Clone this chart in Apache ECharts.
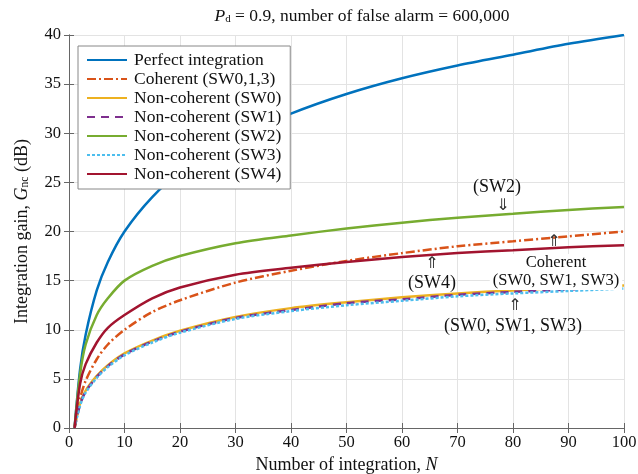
<!DOCTYPE html>
<html>
<head>
<meta charset="utf-8">
<script src="https://cdn.jsdelivr.net/npm/echarts@6/dist/echarts.min.js"></script>
<style>
html, body { margin: 0; padding: 0; background: #fff; }
#chart { width: 638px; height: 474px; }
</style>
</head>
<body>
<div id="chart"></div>
<script>
var serif = '"Liberation Serif", "DejaVu Serif", serif';
var gridColor = '#e3e3e3';
var boxColor = '#666';

// 积累次数
var nValues = [1, 2, 3, 5, 7, 10, 15, 20, 30, 40, 50, 60, 70, 80, 90, 100];
// 各曲线增益 (dB)
var perfect = [0, 6, 9.5, 14, 16.9, 20, 23.5, 26, 29.5, 32, 34, 35.6, 36.9, 38, 39.1, 40];
var coherent = [0, 3, 4.8, 7, 8.5, 10, 11.8, 13, 14.8, 16, 17, 17.8, 18.5, 19, 19.5, 20];
var ncSW0 = [0, 2.5, 3.8, 5.3, 6.4, 7.6, 8.9, 9.9, 11.3, 12.2, 12.8, 13.3, 13.7, 14, 14.3, 14.5];
var ncSW1 = [0, 2.4, 3.7, 5.2, 6.3, 7.5, 8.8, 9.8, 11.2, 12.0, 12.7, 13.1, 13.55, 13.85, 14.1, 14.35];
var ncSW2 = [0, 5.5, 8.5, 11.5, 13.2, 15, 16.5, 17.5, 18.8, 19.6, 20.3, 20.9, 21.4, 21.8, 22.2, 22.5];
var ncSW3 = [0, 2.3, 3.6, 5.1, 6.2, 7.4, 8.7, 9.7, 11.1, 11.9, 12.5, 12.95, 13.4, 13.7, 13.95, 14.2];
var ncSW4 = [0, 4.5, 6.5, 8.7, 10.2, 11.5, 13.2, 14.3, 15.6, 16.3, 16.9, 17.4, 17.8, 18.1, 18.4, 18.6];

var lineSeries = function (name, ys, color, type) {
    return {
        name: name,
        type: 'line',
        data: nValues.map(function (n, i) { return [n, ys[i]]; }),
        symbol: 'none',
        smooth: 0.3,
        lineStyle: { color: color, width: 2.5, type: type || 'solid' },
        itemStyle: { color: color }
    };
};

var txt = function (x, y, text, size, extra) {
    var style = { text: text, font: size + 'px ' + serif, fill: '#111', align: 'center', verticalAlign: 'middle' };
    for (var k in extra) style[k] = extra[k];
    return { type: 'text', z: 100, x: x, y: y, style: style };
};
var arrow = function (x, y, ch) {
    return { type: 'text', z: 100, x: x, y: y, style: { text: ch, font: '16px "DejaVu Sans"', fill: '#333', align: 'center', verticalAlign: 'middle' } };
};

var myChart = echarts.init(document.getElementById('chart'));
var option = {
    animation: false,
    backgroundColor: '#fff',
    textStyle: { fontFamily: serif },
    title: {
        text: '{i|P}{sub|d}{n| = 0.9, number of false alarm = 600,000}',
        left: 357,
        top: 0,
        textAlign: 'center',
        textStyle: {
            fontWeight: 'normal',
            rich: {
                i: { fontFamily: serif, fontSize: 17.5, fontStyle: 'italic', color: '#111', verticalAlign: 'bottom', lineHeight: 20 },
                sub: { fontFamily: serif, fontSize: 11, color: '#111', verticalAlign: 'bottom', lineHeight: 16 },
                n: { fontFamily: serif, fontSize: 17.5, color: '#111', verticalAlign: 'bottom', lineHeight: 20 }
            }
        }
    },
    legend: {
        orient: 'vertical',
        left: 78,
        top: 46,
        itemWidth: 40,
        itemHeight: 14,
        itemGap: 1,
        padding: [5, 9, 6, 8],
        borderColor: '#888',
        borderWidth: 1,
        backgroundColor: '#fff',
        itemStyle: { opacity: 0 },
        textStyle: { fontFamily: serif, fontSize: 17.5, lineHeight: 17, color: '#111', padding: [0, 0, 0, 2] }
    },
    grid: { left: 69, right: 14, top: 35, bottom: 46, outerBoundsMode: 'none' },
    xAxis: [{
        type: 'value',
        min: 0, max: 100, interval: 10,
        name: '{n|Number of integration, }{i|N}',
        nameLocation: 'middle',
        nameGap: 28,
        nameTextStyle: {
            rich: {
                n: { fontFamily: serif, fontSize: 18, color: '#111' },
                i: { fontFamily: serif, fontSize: 18, color: '#111', fontStyle: 'italic' }
            }
        },
        axisLine: { onZero: false, lineStyle: { color: boxColor } },
        axisTick: { inside: true, length: 5, lineStyle: { color: boxColor } },
        axisLabel: { fontFamily: serif, fontSize: 16.5, color: '#111', margin: 6 },
        splitLine: { show: true, lineStyle: { color: gridColor } }
    }, {
        type: 'value', position: 'top',
        min: 0, max: 100, interval: 10,
        axisLine: { lineStyle: { color: boxColor } },
        axisTick: { inside: true, length: 5, lineStyle: { color: boxColor } },
        axisLabel: { show: false },
        splitLine: { show: false }
    }],
    yAxis: [{
        type: 'value',
        min: 0, max: 40, interval: 5,
        name: '{n|Integration gain, }{i|G}{sub|nc}{n| (dB)}',
        nameLocation: 'middle',
        nameGap: 38,
        nameTextStyle: {
            rich: {
                n: { fontFamily: serif, fontSize: 18, color: '#111', verticalAlign: 'bottom', lineHeight: 20 },
                i: { fontFamily: serif, fontSize: 18, color: '#111', fontStyle: 'italic', verticalAlign: 'bottom', lineHeight: 20 },
                sub: { fontFamily: serif, fontSize: 11.5, color: '#111', verticalAlign: 'bottom', lineHeight: 16 }
            }
        },
        axisLine: { show: true, onZero: false, lineStyle: { color: boxColor } },
        axisTick: { show: true, inside: true, length: 5, lineStyle: { color: boxColor } },
        axisLabel: { fontFamily: serif, fontSize: 16.5, color: '#111', margin: 8 },
        splitLine: { show: true, lineStyle: { color: gridColor } }
    }, {
        type: 'value', position: 'right',
        min: 0, max: 40, interval: 5,
        axisLine: { show: true, lineStyle: { color: boxColor } },
        axisTick: { show: true, inside: true, length: 5, lineStyle: { color: boxColor } },
        axisLabel: { show: false },
        splitLine: { show: false }
    }],
    series: [
        lineSeries('Perfect integration', perfect, '#0072BD'),
        lineSeries('Coherent (SW0,1,3)', coherent, '#D95319', [9, 3, 2, 3]),
        lineSeries('Non-coherent (SW0)', ncSW0, '#EDB120'),
        lineSeries('Non-coherent (SW1)', ncSW1, '#7E2F8E', [8, 6]),
        lineSeries('Non-coherent (SW2)', ncSW2, '#77AC30'),
        lineSeries('Non-coherent (SW3)', ncSW3, '#4DBEEE', [3, 2]),
        lineSeries('Non-coherent (SW4)', ncSW4, '#A2142F')
    ],
    graphic: [
        txt(497, 187, '(SW2)', 18),
        arrow(503, 206, '⇓'),
        arrow(554, 242, '⇑'),
        txt(556, 272, 'Coherent\n(SW0, SW1, SW3)', 16.5, { lineHeight: 18, backgroundColor: '#fff', padding: [0, 3, 0, 3] }),
        arrow(432, 264, '⇑'),
        txt(432, 283, '(SW4)', 18),
        arrow(515, 306, '⇑'),
        txt(513, 326, '(SW0, SW1, SW3)', 18)
    ]
};
myChart.setOption(option);
</script>
</body>
</html>
